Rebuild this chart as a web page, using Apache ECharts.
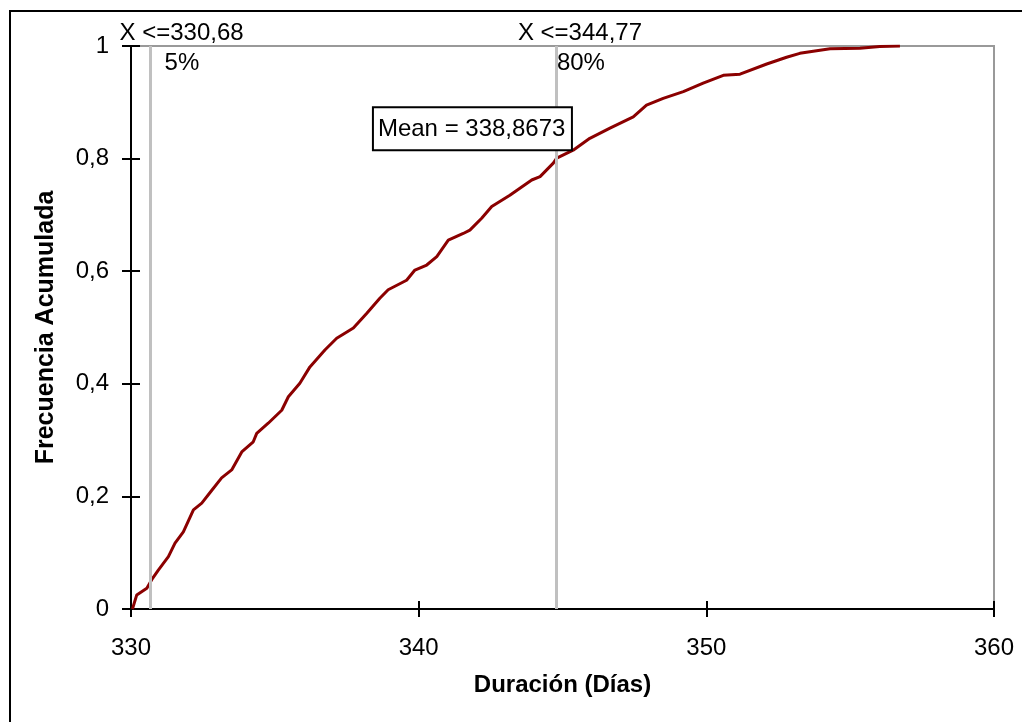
<!DOCTYPE html>
<html>
<head>
<meta charset="utf-8">
<script src="https://cdn.jsdelivr.net/npm/echarts@6/dist/echarts.min.js"></script>
<style>html,body{margin:0;padding:0;background:#fff}#c{width:1022px;height:722px}</style>
</head>
<body>
<div id="c"></div>
<script>
// Duration (days) and cumulative frequency
const durations = [330.05,330.20,330.55,330.72,330.95,331.30,331.53,331.82,332.17,332.46,332.81,333.15,333.50,333.85,334.25,334.37,334.77,335.24,335.47,335.87,336.22,336.74,337.15,337.73,338.19,338.65,338.94,339.58,339.87,340.28,340.63,341.03,341.55,341.78,342.19,342.54,343.17,343.93,344.22,344.68,344.80,345.37,345.95,346.65,347.46,347.92,348.50,349.20,349.89,350.59,351.17,352.10,352.79,353.25,354.30,355.34,356.03,356.73];
const cumFreq   = [0.000,0.025,0.037,0.052,0.069,0.093,0.117,0.137,0.176,0.188,0.211,0.233,0.247,0.279,0.297,0.312,0.330,0.353,0.377,0.401,0.430,0.460,0.481,0.499,0.525,0.552,0.567,0.584,0.602,0.611,0.626,0.655,0.667,0.673,0.694,0.715,0.735,0.762,0.768,0.792,0.801,0.815,0.836,0.854,0.874,0.895,0.907,0.919,0.934,0.948,0.950,0.968,0.980,0.987,0.995,0.996,0.999,1.000];
const xTicks = [330, 340, 350, 360];
const yTicks = [0, 0.2, 0.4, 0.6, 0.8, 1];
const percentileX = [330.68, 344.77];
const percentileTop = ['X <=330,68', 'X <=344,77'];
const percentileLbl = ['5%', '80%'];
const meanLabel = 'Mean = 338,8673';

const FONT = "'Liberation Sans', Arial, sans-serif";
const chart = echarts.init(document.getElementById('c'), null, {renderer: 'canvas'});
const fmtY = v => String(Number(v.toFixed(1))).replace('.', ',');
const baseX = {type:'value', min:xTicks[0], max:xTicks[xTicks.length-1], interval:xTicks[1]-xTicks[0], splitLine:{show:false}};
const baseY = {type:'value', min:yTicks[0], max:yTicks[yTicks.length-1], interval:yTicks[1]-yTicks[0], splitLine:{show:false}};

chart.setOption({
  animation:false,
  backgroundColor:'#fff',
  grid:{left:131, right:28, top:46, bottom:113, show:true, borderColor:'#999', borderWidth:2, backgroundColor:'transparent'},
  xAxis:[
    Object.assign({}, baseX, {position:'bottom',
      axisLine:{lineStyle:{color:'#000', width:2}},
      axisTick:{length:8, lineStyle:{color:'#000', width:2}},
      axisLabel:{margin:27, color:'#000', fontSize:24, fontFamily:FONT},
      name:'Duración (Días)', nameLocation:'middle', nameGap:64,
      nameTextStyle:{color:'#000', fontSize:24, fontWeight:'bold', fontFamily:FONT}}),
    Object.assign({}, baseX, {position:'bottom', offset:0,
      axisLine:{show:false}, axisLabel:{show:false},
      axisTick:{inside:true, length:8, lineStyle:{color:'#000', width:2}}})
  ],
  yAxis:[
    Object.assign({}, baseY, {position:'left',
      axisLine:{show:true, lineStyle:{color:'#000', width:2}},
      axisTick:{show:true, length:9, lineStyle:{color:'#000', width:2}},
      axisLabel:{margin:22, color:'#000', fontSize:24, fontFamily:FONT, formatter:fmtY},
      name:'Frecuencia Acumulada', nameLocation:'middle', nameGap:72, nameRotate:90,
      nameTextStyle:{color:'#000', fontSize:25, fontWeight:'bold', fontFamily:FONT}}),
    Object.assign({}, baseY, {position:'left', offset:0,
      axisLine:{show:false}, axisLabel:{show:false},
      axisTick:{show:true, inside:true, length:9, lineStyle:{color:'#000', width:2}}})
  ],
  series:[
    {type:'line', data:[], z:1, silent:true,
     markLine:{silent:true, symbol:'none', label:{show:false},
       lineStyle:{color:'#c0c0c0', width:3, type:'solid'},
       data:percentileX.map(x => ({xAxis:x}))}},
    {type:'line', z:3, showSymbol:false, smooth:false,
     lineStyle:{color:'#8b0000', width:3},
     data:durations.map((d,i) => [d, cumFreq[i]])}
  ]
});

// annotations anchored to data values
const g = [];
g.push({type:'rect', shape:{x:10, y:11, width:1100, height:800}, style:{fill:'none', stroke:'#000', lineWidth:2}, z:0, silent:true});
percentileX.forEach((x, i) => {
  const p = chart.convertToPixel({xAxisIndex:0, yAxisIndex:0}, [x, 1]);
  const topShift = i === 0 ? -31 : -38;
  const lblShift = i === 0 ? 14 : 1;
  g.push({type:'text', x:p[0] + topShift, y:p[1] - 13, z:10,
    style:{text:percentileTop[i], fill:'#000', font:'24px ' + FONT, verticalAlign:'middle', align:'left'}});
  g.push({type:'text', x:p[0] + lblShift, y:p[1] + 17, z:10,
    style:{text:percentileLbl[i], fill:'#000', font:'24px ' + FONT, verticalAlign:'middle', align:'left'}});
});
const mb = chart.convertToPixel({xAxisIndex:0, yAxisIndex:0}, [338.41, 0.891]);
g.push({type:'rect', shape:{x:mb[0], y:mb[1], width:199, height:43}, z:20,
  style:{fill:'#fff', stroke:'#000', lineWidth:2}});
g.push({type:'text', x:mb[0] + 5, y:mb[1] + 22, z:21,
  style:{text:meanLabel, fill:'#000', font:'24px ' + FONT, verticalAlign:'middle', align:'left'}});
chart.setOption({graphic:g});
</script>
</body>
</html>
